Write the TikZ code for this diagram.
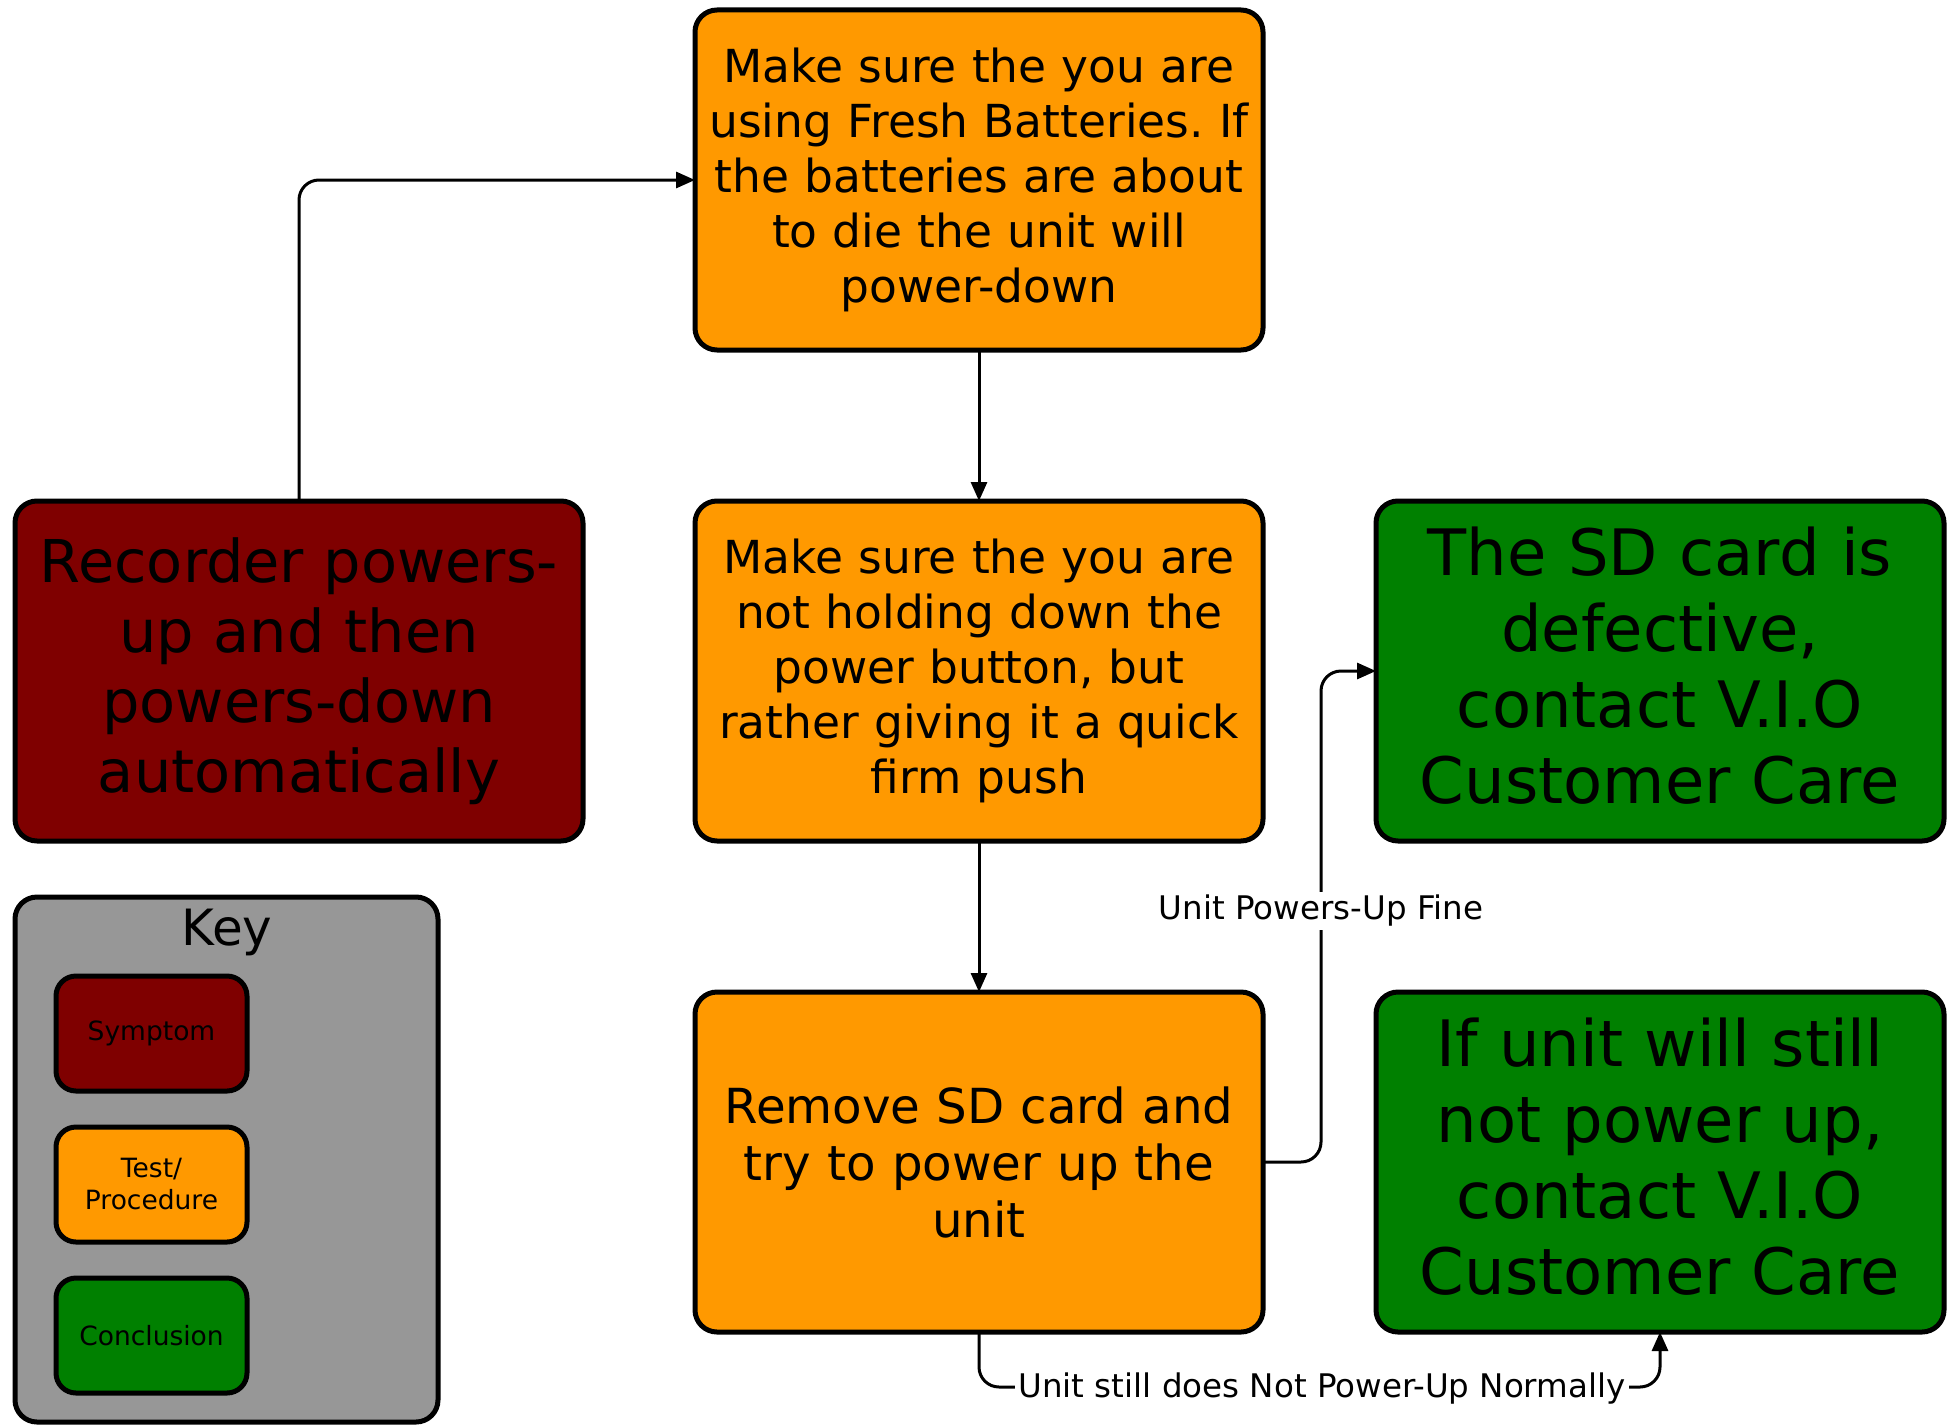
\documentclass[tikz,border=0pt]{standalone}
\usepackage{fontspec}
\setmainfont{DejaVu Sans}
\usetikzlibrary{arrows.meta,calc}
\frenchspacing
\definecolor{orangeT}{HTML}{FF9900}
\definecolor{redS}{HTML}{7F0000}
\definecolor{greenC}{HTML}{008000}
\definecolor{grayK}{HTML}{979797}
\tikzset{
  box/.style={draw=black,line width=5pt,rounded corners=22pt,inner sep=0pt,outer sep=0pt,
    minimum width=568pt,minimum height=340pt,align=center,text width=560pt},
  testbox/.style={box,fill=orangeT,font=\fontsize{45.5}{55}\selectfont},
  symbox/.style={box,fill=redS,font=\fontsize{59}{70}\selectfont},
  conbox/.style={box,fill=greenC},
  context/.style={inner sep=0pt,align=center,text width=560pt,font=\fontsize{64}{76}\selectfont},
  keybox/.style={draw=black,line width=5pt,rounded corners=22pt,inner sep=0pt,
    minimum width=423pt,minimum height=525pt,fill=grayK},
  keyitem/.style={draw=black,line width=5pt,rounded corners=20pt,inner sep=0pt,
    minimum width=191pt,minimum height=115pt,align=center,font=\fontsize{26.5}{32}\selectfont},
  conn/.style={draw=black,line width=3pt,rounded corners=20pt,-{Triangle[length=19pt,width=16pt]}},
  lbl/.style={fill=white,inner sep=3pt,font=\fontsize{32.5}{38}\selectfont}
}
\begin{document}
\begin{tikzpicture}[x=1pt,y=-1pt]
\useasboundingbox[fill=white] (0,0) rectangle (1953,1426);
% main nodes
\node[testbox] (top) at (979,180) {Make sure the you are\\using Fresh Batteries. If\\the batteries are about\\to die the unit will\\power-down};
\node[testbox] (mid) at (979,671) {Make sure the you are\\not holding down the\\power button, but\\rather giving it a quick\\firm push};
\node[testbox,font=\fontsize{48.3}{57}\selectfont] (bot) at (979,1162) {Remove SD card and\\try to power up the\\unit};
\node[symbox] (sym) at (299,671) {Recorder powers-\\up and then\\powers-down\\automatically};
\node[conbox] (g1) at (1660,671) {};
\node[context] (g1t) at ($(g1)+(0,-5)$) {The SD card is\\defective,\\contact V.I.O\\Customer Care};
\node[conbox] (g2) at (1660,1162) {};
\node[context] (g2t) at ($(g2)+(0,-5)$) {If unit will still\\not power up,\\contact V.I.O\\Customer Care};
% key
\node[keybox] (key) at (226.5,1159.5) {};
\node[font=\fontsize{50}{58}\selectfont] (keyt) at (227,932) {Key};
\node[keyitem,fill=redS] (k1) at (151.5,1033.5) {Symptom};
\node[keyitem,fill=orangeT] (k2) at (151.5,1184.5) {Test/\\Procedure};
\node[keyitem,fill=greenC] (k3) at (151.5,1335.5) {Conclusion};
% connectors
\draw[conn] (sym.north) |- (top.west);
\draw[conn] (top.south) -- (mid.north);
\draw[conn] (mid.south) -- (bot.north);
\draw[conn] (bot.east) -- ++(58,0) |- (g1.west);
\draw[conn] (bot.south) -- ++(0,55) -| (g2.south);
\node[lbl] (l1) at (1321,911) {Unit Powers-Up Fine};
\node[lbl] (l2) at (1322,1389) {Unit still does Not Power-Up Normally};
\end{tikzpicture}
\end{document}
